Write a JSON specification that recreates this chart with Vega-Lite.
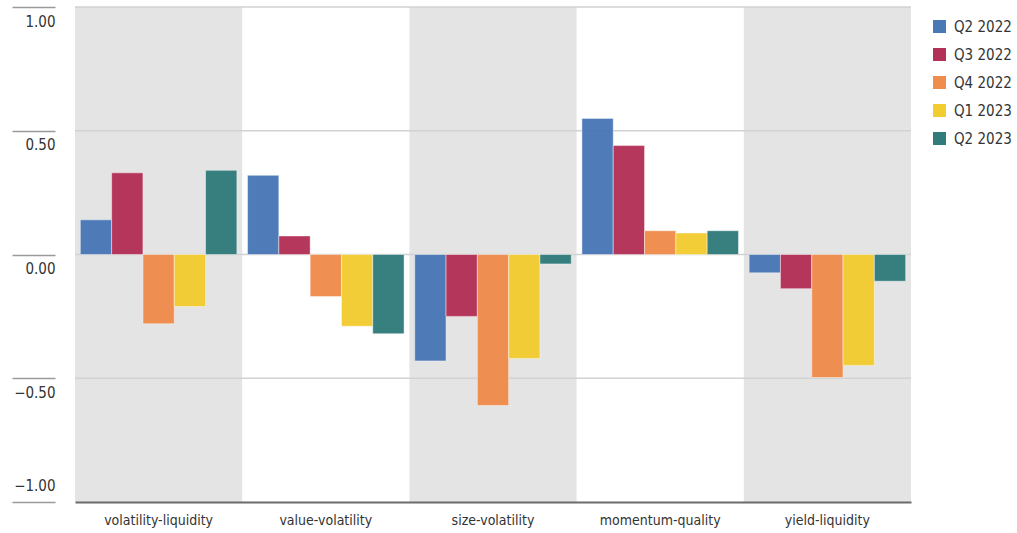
{
  "$schema": "https://vega.github.io/schema/vega-lite/v6.json",
  "autosize": {"type": "none"},
  "padding": {"left": 75, "top": 7, "right": 106, "bottom": 31},
  "width": 836,
  "height": 495,
  "background": "white",
  "config": {
    "font": "DejaVu Sans Condensed, Roboto, sans-serif",
    "view": {"stroke": null}
  },
  "datasets": {
    "bars": [
      {"factor": "volatility-liquidity", "quarter": "Q2 2022", "value": 0.14},
      {"factor": "volatility-liquidity", "quarter": "Q3 2022", "value": 0.33},
      {"factor": "volatility-liquidity", "quarter": "Q4 2022", "value": -0.28},
      {"factor": "volatility-liquidity", "quarter": "Q1 2023", "value": -0.21},
      {"factor": "volatility-liquidity", "quarter": "Q2 2023", "value": 0.34},
      {"factor": "value-volatility", "quarter": "Q2 2022", "value": 0.32},
      {"factor": "value-volatility", "quarter": "Q3 2022", "value": 0.075},
      {"factor": "value-volatility", "quarter": "Q4 2022", "value": -0.17},
      {"factor": "value-volatility", "quarter": "Q1 2023", "value": -0.29},
      {"factor": "value-volatility", "quarter": "Q2 2023", "value": -0.32},
      {"factor": "size-volatility", "quarter": "Q2 2022", "value": -0.43},
      {"factor": "size-volatility", "quarter": "Q3 2022", "value": -0.25},
      {"factor": "size-volatility", "quarter": "Q4 2022", "value": -0.61},
      {"factor": "size-volatility", "quarter": "Q1 2023", "value": -0.42},
      {"factor": "size-volatility", "quarter": "Q2 2023", "value": -0.038},
      {"factor": "momentum-quality", "quarter": "Q2 2022", "value": 0.55},
      {"factor": "momentum-quality", "quarter": "Q3 2022", "value": 0.44},
      {"factor": "momentum-quality", "quarter": "Q4 2022", "value": 0.096},
      {"factor": "momentum-quality", "quarter": "Q1 2023", "value": 0.087},
      {"factor": "momentum-quality", "quarter": "Q2 2023", "value": 0.096},
      {"factor": "yield-liquidity", "quarter": "Q2 2022", "value": -0.074},
      {"factor": "yield-liquidity", "quarter": "Q3 2022", "value": -0.138},
      {"factor": "yield-liquidity", "quarter": "Q4 2022", "value": -0.497},
      {"factor": "yield-liquidity", "quarter": "Q1 2023", "value": -0.448},
      {"factor": "yield-liquidity", "quarter": "Q2 2023", "value": -0.108}
    ],
    "shaded": [
      {"factor": "volatility-liquidity"},
      {"factor": "size-volatility"},
      {"factor": "yield-liquidity"}
    ],
    "grid": [
      {"v": 1}, {"v": 0.5}, {"v": 0}, {"v": -0.5}
    ]
  },
  "encoding": {
    "x": {
      "field": "factor",
      "type": "nominal",
      "sort": ["volatility-liquidity", "value-volatility", "size-volatility", "momentum-quality", "yield-liquidity"],
      "scale": {
        "domain": ["volatility-liquidity", "value-volatility", "size-volatility", "momentum-quality", "yield-liquidity"],
        "paddingInner": 0,
        "paddingOuter": 0
      },
      "axis": {
        "title": null,
        "labelAngle": 0,
        "ticks": false,
        "domainColor": "#6b6b6b",
        "domainWidth": 2,
        "labelFontSize": 14,
        "labelColor": "#333333",
        "labelPadding": 11,
        "zindex": 2
      }
    }
  },
  "layer": [
    {
      "data": {"name": "shaded"},
      "mark": {"type": "rect", "color": "#e4e4e4"},
      "encoding": {
        "y": {"datum": 1, "type": "quantitative", "scale": {"domain": [-1, 1]}},
        "y2": {"datum": -1}
      }
    },
    {
      "data": {"name": "grid"},
      "mark": {"type": "rule", "color": "#d2d2d2", "strokeWidth": 1.5},
      "encoding": {
        "x": {"value": 0},
        "x2": {"value": 836},
        "y": {"field": "v", "type": "quantitative"}
      }
    },
    {
      "data": {"name": "bars"},
      "mark": {"type": "bar", "opacity": 0.97, "stroke": "#ffffff", "strokeOpacity": 0.45, "strokeWidth": 1},
      "encoding": {
        "xOffset": {
          "field": "quarter",
          "type": "nominal",
          "sort": ["Q2 2022", "Q3 2022", "Q4 2022", "Q1 2023", "Q2 2023"],
          "scale": {"paddingInner": 0, "paddingOuter": 0.17}
        },
        "y": {
          "field": "value",
          "type": "quantitative",
          "scale": {"domain": [-1, 1], "nice": false},
          "axis": {
            "title": null,
            "values": [-1, -0.5, 0, 0.5, 1],
            "format": ".2f",
            "grid": false,
            "domain": false,
            "offset": 20,
            "tickSize": 43,
            "tickColor": "#9a9a9a",
            "tickWidth": 1.5,
            "labelPadding": -43,
            "labelAlign": "right",
            "labelBaseline": {"condition": {"test": "datum.value == -1", "value": "bottom"}, "value": "top"},
            "labelOffset": {"condition": {"test": "datum.value == -1", "value": -9}, "value": 7},
            "labelFontSize": 15,
            "labelColor": "#333333"
          }
        },
        "color": {
          "field": "quarter",
          "type": "nominal",
          "sort": ["Q2 2022", "Q3 2022", "Q4 2022", "Q1 2023", "Q2 2023"],
          "scale": {
            "domain": ["Q2 2022", "Q3 2022", "Q4 2022", "Q1 2023", "Q2 2023"],
            "range": ["#4a77b6", "#b33157", "#ef8d4d", "#f3cc31", "#327b7b"]
          },
          "legend": {
            "title": null,
            "orient": "none",
            "legendX": 857,
            "legendY": 12,
            "padding": 0,
            "symbolType": "square",
            "symbolSize": 170,
            "symbolStrokeWidth": 0,
            "symbolOpacity": 1,
            "labelFontSize": 15,
            "labelColor": "#333333",
            "labelOffset": 7,
            "rowPadding": 12
          }
        }
      }
    }
  ]
}
